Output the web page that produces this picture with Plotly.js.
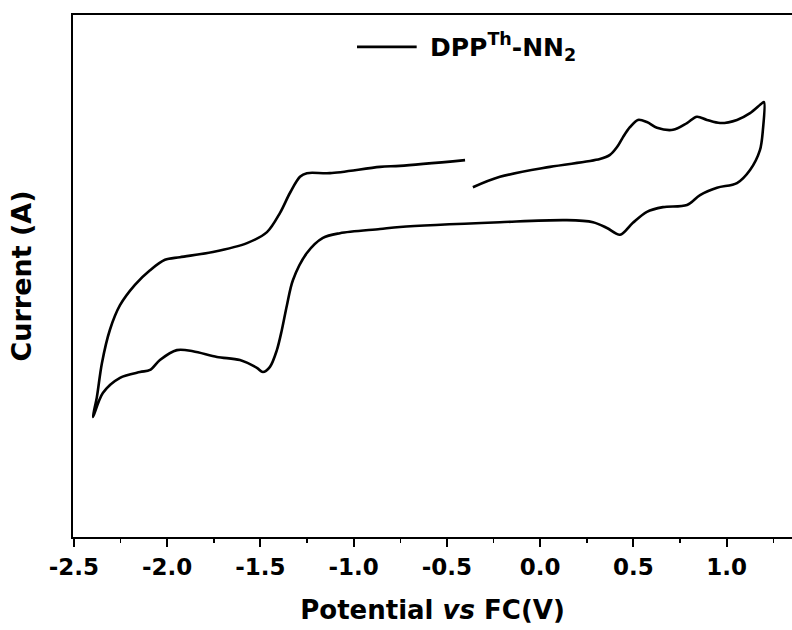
<!DOCTYPE html>
<html>
<head>
<meta charset="utf-8">
<script src="https://cdn.plot.ly/plotly-3.0.1.min.js"></script>
<style>html,body{margin:0;padding:0;background:#fff;}#chart{width:792px;height:630px;}</style>
</head>
<body>
<div id="chart"></div>
<script>
// Potential (V vs Fc) along the scan: start -0.36 V -> +1.2 V -> -2.4 V -> -0.40 V
const potential = [
  -0.361, -0.216, 0.052, 0.320, 0.374, 0.412, 0.444, 0.481, 0.524, 0.572,
  0.626, 0.712, 0.787, 0.840, 0.894, 0.964, 1.055, 1.125, 1.189, 1.200,
  1.194, 1.178, 1.125, 1.055, 0.948, 0.857, 0.787, 0.658, 0.572, 0.497,
  0.428, 0.358, 0.283, 0.143, -0.216, -0.752, -0.859, -1.074, -1.165, -1.251,
  -1.326, -1.358, -1.385, -1.412, -1.449, -1.487, -1.519, -1.610, -1.733, -1.862,
  -1.948, -2.039, -2.092, -2.146, -2.253, -2.345, -2.398, -2.377, -2.350, -2.307,
  -2.253, -2.173, -2.092, -2.012, -1.932, -1.755, -1.572, -1.465, -1.395, -1.342,
  -1.288, -1.251, -1.127, -0.859, -0.752, -0.403
];
// Current (arbitrary units, unlabelled axis)
const current = [
  67.0, 69.0, 70.9, 72.4, 73.2, 74.7, 76.6, 78.5, 79.9, 79.5,
  78.4, 78.0, 79.3, 80.5, 79.9, 79.3, 79.9, 81.2, 83.1, 83.3,
  78.0, 74.1, 70.3, 67.8, 66.9, 65.5, 63.6, 63.2, 62.3, 60.2,
  57.9, 59.2, 60.3, 60.7, 60.3, 59.4, 59.0, 58.2, 57.3, 54.4,
  49.2, 44.4, 39.7, 35.8, 32.6, 31.6, 32.4, 33.9, 34.5, 35.6,
  35.8, 33.9, 32.0, 31.6, 30.5, 27.6, 23.0, 26.8, 33.3, 39.7,
  44.4, 48.3, 51.1, 53.1, 53.6, 54.6, 56.3, 58.4, 62.1, 65.9,
  69.0, 69.7, 69.7, 70.9, 71.1, 72.2
];
const seriesName = 'DPP<sup>Th</sup>-NN<sub>2</sub>';
const xTickVals = [-2.5, -2.0, -1.5, -1.0, -0.5, 0.0, 0.5, 1.0];
const xTickText = ['-2.5', '-2.0', '-1.5', '-1.0', '-0.5', '0.0', '0.5', '1.0'];

const trace = {
  x: potential, y: current, type: 'scatter', mode: 'lines',
  name: seriesName, showlegend: false,
  line: {color: '#000', width: 2.6, shape: 'spline', smoothing: 0.9}
};

const font = 'DejaVu Sans, Arial, sans-serif';
const layout = {
  width: 792, height: 630,
  margin: {l: 73, r: 0, t: 15, b: 93},
  paper_bgcolor: '#fff', plot_bgcolor: '#fff',
  showlegend: false,
  // legend drawn as a key line + label
  shapes: [{type: 'line', xref: 'paper', yref: 'paper',
            x0: 0.395, x1: 0.478, y0: 0.939, y1: 0.939,
            line: {color: '#000', width: 2.6}}],
  annotations: [{xref: 'paper', yref: 'paper', x: 0.494, y: 0.939,
                 xanchor: 'left', yanchor: 'middle', showarrow: false,
                 text: seriesName,
                 font: {family: font, size: 25, color: '#000', weight: 'bold'}}],
  xaxis: {
    range: [-2.505, 1.35], showgrid: false, zeroline: false,
    showline: true, linecolor: '#000', linewidth: 2, mirror: true,
    ticks: 'outside', ticklen: 8, tickwidth: 2, tickcolor: '#000',
    tickvals: xTickVals, ticktext: xTickText,
    minor: {ticks: 'outside', ticklen: 4, tickwidth: 1.5, tickcolor: '#000', dtick: 0.25},
    tickfont: {family: font, size: 23, color: '#000', weight: 'bold'},
    title: {text: 'Potential <i>vs</i> FC(V)', standoff: 22,
            font: {family: font, size: 26, color: '#000', weight: 'bold'}}
  },
  yaxis: {
    range: [0, 100], showgrid: false, zeroline: false,
    showline: true, linecolor: '#000', linewidth: 2, mirror: false,
    ticks: '', showticklabels: false,
    title: {text: 'Current (A)', standoff: 32,
            font: {family: font, size: 27, color: '#000', weight: 'bold'}}
  }
};

Plotly.newPlot('chart', [trace], layout, {displayModeBar: false, staticPlot: true});
</script>
</body>
</html>
